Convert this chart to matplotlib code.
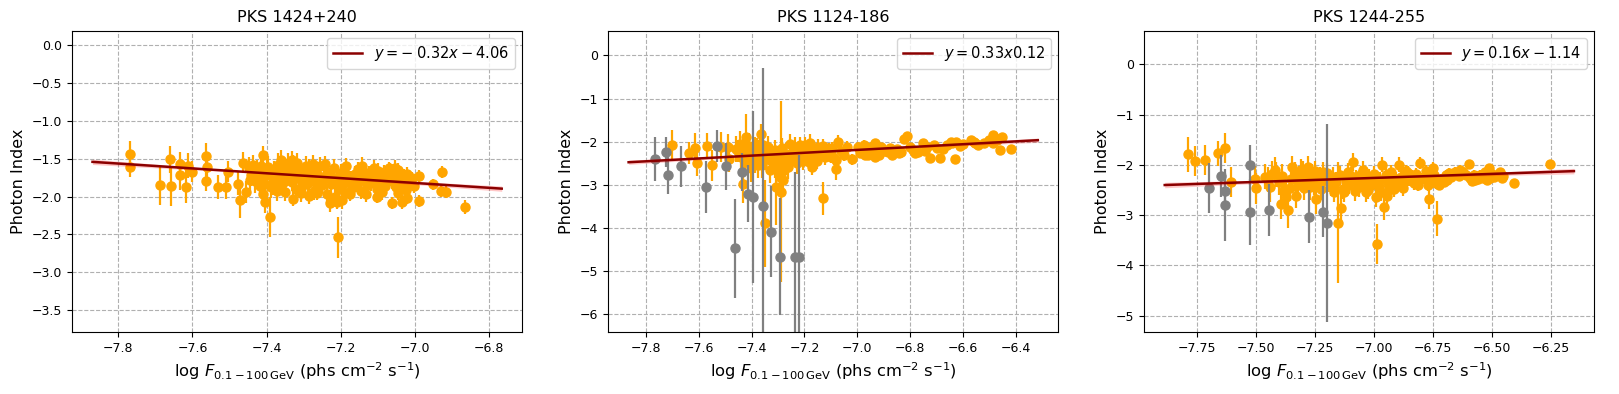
"""
Photon index vs. gamma-ray flux for three FSRQs/BL Lacs, with linear fits.
Orange = detected bins, grey = low-significance bins.
"""

import matplotlib.pyplot as plt
import numpy as np


# ---------------------------------------------------------------- PKS 1424+240
p1_x = [-7.769, -7.770, -7.687, -7.662, -7.659, -7.635, -7.634, -7.618, -7.611, -7.600,
        -7.563, -7.560, -7.564, -7.530, -7.510, -7.503, -7.477, -7.472, -7.463, -7.455,
        -7.430, -7.409, -7.409, -7.404, -7.392, -7.382, -7.350, -7.330, -7.328, -7.306,
        -7.285, -7.265, -7.210, -7.207, -7.175, -7.103, -7.070, -7.061, -7.034, -7.020,
        -6.989, -6.989, -6.950, -6.925, -6.928, -6.916, -6.865,
        # dense part
        -7.448, -7.442, -7.436, -7.431, -7.425, -7.420, -7.414, -7.409, -7.403, -7.398,
        -7.392, -7.387, -7.381, -7.376, -7.370, -7.365, -7.359, -7.354, -7.348, -7.343,
        -7.337, -7.332, -7.326, -7.321, -7.315, -7.310, -7.304, -7.299, -7.293, -7.288,
        -7.282, -7.277, -7.271, -7.266, -7.260, -7.255, -7.249, -7.244, -7.238, -7.233,
        -7.227, -7.222, -7.216, -7.211, -7.205, -7.200, -7.194, -7.189, -7.183, -7.178,
        -7.172, -7.167, -7.161, -7.156, -7.150, -7.145, -7.139, -7.134, -7.128, -7.123,
        -7.117, -7.112, -7.106, -7.101, -7.095, -7.090, -7.084, -7.079, -7.073, -7.068,
        -7.062, -7.057, -7.051, -7.046, -7.040, -7.035, -7.029, -7.024, -7.018, -7.013,
        -7.007, -7.002,
        -7.445, -7.417, -7.395, -7.372, -7.351, -7.328, -7.307, -7.285, -7.263, -7.241,
        -7.219, -7.197, -7.176, -7.154, -7.132, -7.110, -7.088, -7.066, -7.044, -7.022,
        -7.362, -7.318, -7.274, -7.230, -7.186, -7.142, -7.098, -7.054]
p1_y = [-1.44, -1.61, -1.85, -1.51, -1.86, -1.57, -1.71, -1.87, -1.59, -1.67,
        -1.46, -1.61, -1.79, -1.87, -1.87, -1.67, -1.83, -2.04, -1.55, -1.94,
        -1.69, -1.45, -1.96, -2.07, -2.27, -1.85, -1.94, -1.52, -2.03, -1.94,
        -1.99, -1.95, -2.07, -2.54, -1.97, -2.00, -1.62, -2.08, -2.07, -2.02,
        -2.06, -1.73, -1.84, -1.68, -1.93, -1.94, -2.14,
        -1.62, -1.71, -1.58, -1.80, -1.66, -1.74, -1.60, -1.69, -1.83, -1.64,
        -1.72, -1.88, -1.66, -1.79, -1.58, -1.70, -1.84, -1.62, -1.75, -1.55,
        -1.68, -1.81, -1.73, -1.90, -1.64, -1.77, -1.86, -1.70, -1.59, -1.82,
        -1.75, -1.66, -1.92, -1.80, -1.71, -1.60, -1.85, -1.76, -1.96, -1.68,
        -1.83, -1.74, -2.00, -1.79, -1.90, -1.69, -1.84, -1.95, -1.72, -1.81,
        -1.77, -1.88, -1.70, -1.83, -1.74, -1.92, -1.66, -1.79, -1.85, -1.71,
        -1.82, -1.69, -1.76, -1.90, -1.73, -1.80, -1.67, -1.86, -1.75, -1.71,
        -1.80, -1.74, -1.88, -1.65, -1.77, -1.83, -1.72, -1.91, -1.79, -1.84,
        -1.76, -1.86,
        -1.78, -1.86, -1.61, -1.93, -1.80, -1.58, -1.95, -1.63, -1.88, -1.57,
        -1.62, -2.05, -1.93, -1.64, -1.96, -1.62, -1.94, -1.64, -1.95, -1.70,
        -1.52, -1.55, -1.57, -2.08, -1.60, -1.59, -1.66, -1.62]
p1_err = [0.18, 0.13, 0.26, 0.18, 0.26, 0.16, 0.20, 0.22, 0.16, 0.14,
          0.17, 0.14, 0.14, 0.16, 0.16, 0.14, 0.15, 0.24, 0.14, 0.15,
          0.14, 0.12, 0.14, 0.15, 0.26, 0.13, 0.12, 0.12, 0.10, 0.10,
          0.11, 0.10, 0.10, 0.27, 0.09, 0.09, 0.08, 0.08, 0.09, 0.08,
          0.08, 0.08, 0.07, 0.08, 0.08, 0.08, 0.09,
          0.14, 0.15, 0.13, 0.15, 0.14, 0.13, 0.15, 0.14, 0.13, 0.14,
          0.13, 0.14, 0.13, 0.14, 0.15, 0.13, 0.12, 0.14, 0.13, 0.12,
          0.13, 0.12, 0.14, 0.13, 0.12, 0.13, 0.12, 0.14, 0.12, 0.13,
          0.12, 0.13, 0.12, 0.12, 0.13, 0.12, 0.11, 0.12, 0.13, 0.12,
          0.12, 0.11, 0.13, 0.12, 0.11, 0.12, 0.11, 0.12, 0.11, 0.12,
          0.11, 0.12, 0.10, 0.11, 0.12, 0.11, 0.10, 0.11, 0.10, 0.11,
          0.10, 0.11, 0.10, 0.10, 0.11, 0.10, 0.09, 0.10, 0.10, 0.09,
          0.10, 0.09, 0.10, 0.09, 0.09, 0.10, 0.09, 0.09, 0.10, 0.09,
          0.09, 0.09,
          0.14, 0.13, 0.14, 0.13, 0.12, 0.13, 0.12, 0.12, 0.12, 0.11,
          0.12, 0.11, 0.11, 0.10, 0.11, 0.10, 0.10, 0.09, 0.10, 0.09,
          0.13, 0.12, 0.12, 0.13, 0.11, 0.11, 0.10, 0.10]
p1_grey_x, p1_grey_y, p1_grey_err = [], [], []

# ---------------------------------------------------------------- PKS 1124-186
p2_x = [-7.702, -7.636, -7.614, -7.606, -7.569, -7.548, -7.514, -7.490, -7.486, -7.459,
        -7.431, -7.420, -7.413, -7.388, -7.374, -7.365, -7.358, -7.349, -7.331, -7.319,
        -7.313, -7.307, -7.294, -7.289, -7.282, -7.276, -7.267, -7.251, -7.233, -7.215,
        -7.203, -7.184, -7.178, -7.172, -7.154, -7.129, -7.117, -7.099, -7.080, -7.080,
        -7.074, -7.019, -6.989, -6.971, -6.952, -6.934, -6.934, -6.909, -6.885, -6.861,
        -6.836, -6.824, -6.812, -6.800, -6.781, -6.750, -6.744, -6.726, -6.708, -6.687,
        -6.677, -6.647, -6.631, -6.625, -6.610, -6.570, -6.556, -6.543, -6.488, -6.486,
        -6.473, -6.461, -6.453, -6.417,
        # dense part
        -7.452, -7.445, -7.438, -7.430, -7.423, -7.416, -7.409, -7.402, -7.395, -7.388,
        -7.381, -7.374, -7.367, -7.360, -7.353, -7.346, -7.339, -7.332, -7.325, -7.318,
        -7.311, -7.304, -7.297, -7.290, -7.283, -7.276, -7.269, -7.262, -7.255, -7.248,
        -7.241, -7.234, -7.227, -7.220, -7.213, -7.206, -7.199, -7.192, -7.185, -7.178,
        -7.171, -7.164, -7.157, -7.150, -7.143, -7.136, -7.129, -7.122, -7.115, -7.108,
        -7.101, -7.094, -7.087, -7.060, -7.050, -7.040, -6.998, -6.990, -6.982, -6.975,
        -6.966, -6.958, -6.950, -6.942, -6.925, -6.917,
        -6.900, -6.878, -6.870, -6.850, -6.842, -6.790, -6.770, -6.735, -6.700, -6.660,
        -6.640, -6.600, -6.560, -6.520, -6.500, -6.478]
p2_y = [-2.07, -2.26, -2.14, -2.50, -2.10, -2.55, -2.13, -2.13, -2.40, -2.16,
        -2.97, -1.90, -2.40, -2.20, -2.54, -1.83, -2.08, -3.89, -2.43, -2.35,
        -2.58, -3.04, -2.81, -3.16, -2.89, -2.66, -2.46, -2.35, -2.39, -2.08,
        -2.35, -2.47, -2.03, -2.58, -2.45, -3.31, -2.31, -2.35, -2.43, -2.64,
        -2.00, -2.41, -2.20, -2.31, -2.16, -2.35, -2.04, -2.13, -2.24, -2.20,
        -2.24, -1.93, -1.87, -2.13, -2.27, -2.04, -2.21, -2.37, -2.08, -2.37,
        -2.16, -2.00, -2.39, -2.00, -2.10, -1.95, -2.03, -2.08, -1.85, -2.04,
        -1.97, -2.20, -1.90, -2.16,
        -2.22, -2.05, -2.35, -2.14, -2.48, -2.28, -2.10, -2.62, -2.31, -2.44,
        -2.18, -2.40, -2.05, -2.55, -2.25, -2.38, -2.12, -2.66, -2.30, -2.48,
        -2.20, -2.52, -2.36, -2.72, -2.15, -2.44, -2.28, -2.58, -2.05, -2.40,
        -2.25, -2.12, -2.50, -2.32, -2.18, -2.44, -2.08, -2.30, -2.22, -2.38,
        -2.15, -2.28, -2.40, -2.12, -2.33, -2.22, -2.10, -2.36, -2.26, -2.18,
        -2.28, -2.15, -2.38, -2.22, -2.30, -2.12, -2.12, -2.26, -2.18, -2.08,
        -2.24, -2.30, -2.28, -2.10, -2.20, -2.30,
        -2.22, -2.15, -2.30, -2.18, -2.25, -2.20, -2.24, -2.12, -2.14, -2.08,
        -2.02, -2.06, -2.00, -2.04, -1.95, -1.92]
p2_err = [0.35, 0.25, 0.35, 0.30, 0.30, 0.35, 0.35, 0.30, 0.30, 0.30,
          0.45, 0.55, 0.30, 0.30, 0.30, 0.25, 0.30, 1.00, 0.25, 0.25,
          0.25, 0.90, 0.40, 2.10, 0.35, 0.30, 0.25, 0.20, 0.20, 0.20,
          0.20, 0.20, 0.20, 0.20, 0.18, 0.38, 0.15, 0.15, 0.15, 0.25,
          0.15, 0.13, 0.12, 0.12, 0.12, 0.10, 0.10, 0.10, 0.10, 0.10,
          0.08, 0.08, 0.08, 0.08, 0.08, 0.08, 0.08, 0.07, 0.07, 0.07,
          0.07, 0.07, 0.07, 0.07, 0.07, 0.06, 0.06, 0.06, 0.06, 0.06,
          0.06, 0.06, 0.06, 0.06,
          0.25, 0.30, 0.28, 0.25, 0.30, 0.28, 0.30, 0.32, 0.26, 0.28,
          0.26, 0.28, 0.30, 0.28, 0.25, 0.27, 0.26, 0.30, 0.25, 0.26,
          0.24, 0.28, 0.25, 0.30, 0.24, 0.26, 0.24, 0.28, 0.22, 0.24,
          0.22, 0.22, 0.24, 0.22, 0.20, 0.22, 0.20, 0.20, 0.20, 0.22,
          0.18, 0.20, 0.20, 0.18, 0.18, 0.18, 0.16, 0.18, 0.16, 0.16,
          0.15, 0.15, 0.16, 0.14, 0.14, 0.14, 0.12, 0.12, 0.12, 0.11,
          0.11, 0.11, 0.11, 0.10, 0.10, 0.10,
          0.10, 0.09, 0.09, 0.09, 0.09, 0.08, 0.08, 0.08, 0.07, 0.07,
          0.07, 0.06, 0.06, 0.06, 0.06, 0.06]
p2_grey_x = [-7.765, -7.722, -7.717, -7.666, -7.574, -7.532, -7.495, -7.464,
             -7.435, -7.414, -7.396, -7.358, -7.327, -7.292, -7.237, -7.221]
p2_grey_y = [-2.40, -2.24, -2.77, -2.57, -3.04, -2.10, -2.57, -4.47,
             -2.70, -3.20, -3.28, -3.49, -4.08, -4.66, -4.66, -4.66]
p2_grey_err = [0.50, 0.35, 0.45, 0.48, 0.60, 0.37, 0.55, 1.15,
               0.45, 0.65, 2.00, 3.20, 1.05, 1.35, 1.95, 2.35]

# ---------------------------------------------------------------- PKS 1244-255
p3_x = [-7.785, -7.757, -7.715, -7.659, -7.628, -7.603, -7.504, -7.497, -7.462, -7.420,
        -7.413, -7.392, -7.371, -7.364, -7.357, -7.336, -7.329, -7.301, -7.294, -7.244,
        -7.230, -7.216, -7.188, -7.167, -7.153, -7.139, -7.125, -7.111, -7.090, -7.069,
        -7.048, -7.027, -6.992, -6.988, -6.964, -6.957, -6.935, -6.921, -6.893, -6.879,
        -6.858, -6.830, -6.805, -6.788, -6.767, -6.749, -6.739, -6.732, -6.704, -6.683,
        -6.655, -6.634, -6.599, -6.592, -6.571, -6.550, -6.515, -6.508, -6.480, -6.465,
        -6.458, -6.409, -6.254,
        # dense part
        -7.450, -7.440, -7.430, -7.400, -7.390, -7.380, -7.350, -7.345, -7.320, -7.315,
        -7.310, -7.285, -7.280, -7.270, -7.262, -7.255, -7.248, -7.240, -7.222, -7.210,
        -7.200, -7.180, -7.175, -7.160, -7.145, -7.132, -7.120, -7.105, -7.098, -7.080,
        -7.075, -7.062, -7.055, -7.040, -7.035, -7.020, -7.012, -7.005, -6.998, -6.980,
        -6.975, -6.968, -6.950, -6.945, -6.940, -6.928, -6.915, -6.905, -6.900, -6.885,
        -6.872, -6.865, -6.850, -6.840, -6.822, -6.815, -6.800, -6.780, -6.772, -6.760,
        -6.745, -6.725, -6.715, -6.695, -6.690, -6.672, -6.665, -6.640, -6.625, -6.610,
        -6.585, -6.575, -6.560, -6.540, -6.530, -6.520, -6.500, -6.490, -6.470, -6.455]
p3_y = [-1.79, -1.92, -1.91, -1.77, -1.67, -2.34, -2.28, -2.47, -2.24, -2.10,
        -2.20, -2.78, -2.64, -2.90, -2.47, -2.17, -2.61, -2.14, -2.47, -2.67,
        -2.24, -2.14, -2.34, -2.54, -3.15, -2.85, -2.54, -2.14, -1.94, -2.34,
        -2.11, -2.50, -2.64, -3.57, -2.00, -2.84, -2.50, -2.30, -2.00, -2.47,
        -2.17, -2.37, -1.97, -2.24, -2.67, -2.07, -2.37, -3.07, -2.34, -2.17,
        -2.14, -2.10, -1.99, -2.27, -2.30, -2.20, -2.07, -2.27, -2.20, -2.14,
        -2.27, -2.37, -1.99,
        -2.30, -2.45, -2.18, -2.35, -2.22, -2.50, -2.28, -2.05, -2.40, -2.25,
        -2.10, -2.32, -2.05, -2.45, -2.20, -2.38, -2.12, -2.28, -2.48, -2.30,
        -2.16, -2.42, -2.25, -2.35, -2.20, -2.48, -2.30, -2.40, -2.22, -2.52,
        -2.28, -2.45, -2.18, -2.36, -2.55, -2.24, -2.40, -2.30, -2.18, -2.45,
        -2.30, -2.55, -2.20, -2.62, -2.38, -2.15, -2.48, -2.28, -2.40, -2.25,
        -2.35, -2.12, -2.30, -2.22, -2.18, -2.40, -2.28, -2.12, -2.40, -2.30,
        -2.20, -2.40, -2.28, -2.20, -2.30, -2.25, -2.18, -2.22, -2.15, -2.20,
        -2.32, -2.20, -2.28, -2.26, -2.15, -2.30, -2.18, -2.25, -2.20, -2.22]
p3_err = [0.35, 0.30, 0.30, 0.25, 0.30, 0.30, 0.25, 0.30, 0.25, 0.25,
          0.25, 0.30, 0.30, 0.35, 0.25, 0.22, 0.25, 0.22, 0.22, 0.30,
          0.20, 0.20, 0.20, 0.20, 1.20, 0.30, 0.20, 0.18, 0.18, 0.18,
          0.18, 0.18, 0.20, 0.40, 0.15, 0.25, 0.18, 0.15, 0.15, 0.15,
          0.14, 0.14, 0.12, 0.12, 0.20, 0.12, 0.12, 0.35, 0.10, 0.10,
          0.10, 0.10, 0.09, 0.09, 0.09, 0.09, 0.08, 0.08, 0.08, 0.08,
          0.08, 0.08, 0.06,
          0.25, 0.28, 0.25, 0.25, 0.24, 0.28, 0.24, 0.22, 0.25, 0.22,
          0.22, 0.22, 0.22, 0.25, 0.22, 0.22, 0.20, 0.22, 0.22, 0.20,
          0.20, 0.20, 0.20, 0.20, 0.18, 0.20, 0.18, 0.18, 0.18, 0.20,
          0.18, 0.18, 0.16, 0.18, 0.18, 0.16, 0.18, 0.16, 0.16, 0.16,
          0.15, 0.16, 0.15, 0.18, 0.15, 0.14, 0.15, 0.14, 0.14, 0.14,
          0.14, 0.12, 0.12, 0.12, 0.12, 0.12, 0.12, 0.11, 0.12, 0.11,
          0.11, 0.10, 0.10, 0.10, 0.10, 0.10, 0.10, 0.09, 0.09, 0.09,
          0.09, 0.09, 0.09, 0.08, 0.08, 0.08, 0.08, 0.08, 0.08, 0.08]
p3_grey_x = [-7.698, -7.645, -7.628, -7.631, -7.525, -7.525, -7.444, -7.273, -7.216, -7.198]
p3_grey_y = [-2.46, -2.22, -2.52, -2.80, -2.00, -2.94, -2.90, -3.03, -2.93, -3.15]
p3_grey_err = [0.50, 0.42, 0.35, 0.72, 0.40, 0.65, 0.52, 0.52, 0.50, 1.97]

# ---------------------------------------------------------------- fits / panels
names = ["PKS 1424+240", "PKS 1124-186", "PKS 1244-255"]
fit_slope = [-0.32, 0.33, 0.16]
fit_icpt = [-4.06, 0.12, -1.14]
fit_labels = [r"$y = -\:0.32x - 4.06$", r"$y = 0.33x0.12$", r"$y = 0.16x - 1.14$"]
fit_ci = [(0.008, 0.035), (0.01, 0.05), (0.01, 0.055)]   # band half-width (centre, ends)
y_limits = [(-3.79, 0.19), (-6.41, 0.57), (-5.33, 0.67)]

panels = [
    (p1_x, p1_y, p1_err, p1_grey_x, p1_grey_y, p1_grey_err),
    (p2_x, p2_y, p2_err, p2_grey_x, p2_grey_y, p2_grey_err),
    (p3_x, p3_y, p3_err, p3_grey_x, p3_grey_y, p3_grey_err),
]

XLABEL = r"$\log\,F_{0.1-100\,\mathrm{GeV}}$ (phs cm$^{-2}$ s$^{-1}$)"


def plot_panel(ax, i):
    x, y, err, gx, gy, gerr = panels[i]
    assert len(x) == len(y) == len(err)
    assert len(gx) == len(gy) == len(gerr)

    ax.errorbar(x, y, yerr=err, fmt="o", color="orange", ms=6.5,
                elinewidth=1.6, capsize=0, zorder=2)
    if gx:
        ax.errorbar(gx, gy, yerr=gerr, fmt="o", color="grey", ms=6.5,
                    elinewidth=1.6, capsize=0, zorder=2.5)

    all_x = np.array(list(x) + list(gx))
    xf = np.linspace(all_x.min() - 0.1, all_x.max() + 0.1, 200)
    yf = fit_slope[i] * xf + fit_icpt[i]
    xc = 0.5 * (xf[0] + xf[-1])
    half = 0.5 * (xf[-1] - xf[0])
    c_mid, c_end = fit_ci[i]
    hw = np.sqrt(c_mid**2 + (c_end**2 - c_mid**2) * ((xf - xc) / half) ** 2)
    ax.fill_between(xf, yf - hw, yf + hw, color="red", alpha=0.22, lw=0, zorder=3)
    ax.plot(xf, yf, color="darkred", lw=1.8, label=fit_labels[i], zorder=4)

    ax.set_ylim(*y_limits[i])
    ax.set_title(names[i], fontsize=11.5)
    ax.set_xlabel(XLABEL, fontsize=11.8)
    ax.set_ylabel("Photon Index", fontsize=11.5)
    ax.tick_params(labelsize=9)
    ax.grid(True, linestyle="--", color="#b0b0b0", lw=0.8)
    ax.legend(loc="upper right", fontsize=10.5)


def main():
    fig, axes = plt.subplots(1, 3, figsize=(16.19, 3.94), dpi=100)
    fig.subplots_adjust(left=0.0445, right=0.9848, bottom=0.157, top=0.922,
                        wspace=0.191)
    for i, ax in enumerate(axes):
        plot_panel(ax, i)
    fig.savefig("out.png", dpi=100)


if __name__ == "__main__":
    main()
